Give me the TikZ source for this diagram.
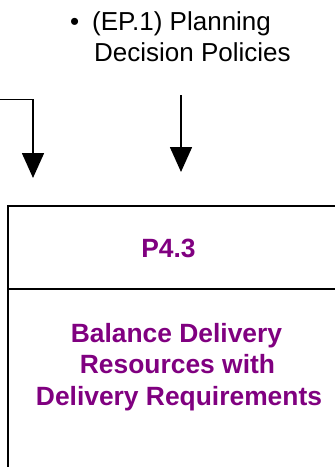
\documentclass[tikz,border=0pt]{standalone}
\usepackage{fontspec}
\setmainfont{Liberation Sans}
\usetikzlibrary{arrows.meta}
\definecolor{procpurple}{RGB}{128,0,128}
\tikzset{
  flow/.style={line width=1.6pt, -{Triangle[length=25pt,width=22pt]}},
  frame/.style={line width=2pt},
  inputtext/.style={anchor=base west, inner sep=0pt, font=\fontsize{26}{31}\selectfont},
  proctext/.style={anchor=base, inner sep=0pt, text=procpurple, font=\fontsize{26.4}{31}\selectfont\bfseries}
}
\begin{document}
\begin{tikzpicture}[x=1pt, y=-1pt]
  \useasboundingbox (0,0) rectangle (335,467);

  % input policy bullet
  \node[inputtext] (bullet) at (70,30) {•};
  \node[inputtext] (policy1) at (92,30) {(EP.1) Planning};
  \node[inputtext] (policy2) at (94,61) {Decision Policies};

  % connectors into the process
  \coordinate (feedin) at (-2,99.5);
  \coordinate (bend) at (33,99.5);
  \coordinate (tipA) at (33,178);
  \coordinate (srcB) at (181,95);
  \coordinate (tipB) at (181,172);
  \draw[flow] (feedin) -- (bend) -- (tipA);
  \draw[flow] (srcB) -- (tipB);

  % process box with header
  \coordinate (boxTL) at (8,206);
  \coordinate (boxTR) at (340,206);
  \coordinate (boxBL) at (8,472);
  \coordinate (divL) at (8,288.5);
  \coordinate (divR) at (340,288.5);
  \draw[frame] (boxTR) -- (boxTL) -- (boxBL);
  \draw[frame] (divL) -- (divR);

  \node[proctext] (pid) at (168.5,257) {P4.3};
  \node[proctext] (name1) at (176.5,342) {Balance Delivery};
  \node[proctext] (name2) at (177.5,373.5) {Resources with};
  \node[proctext] (name3) at (179,405) {Delivery Requirements};
\end{tikzpicture}
\end{document}
